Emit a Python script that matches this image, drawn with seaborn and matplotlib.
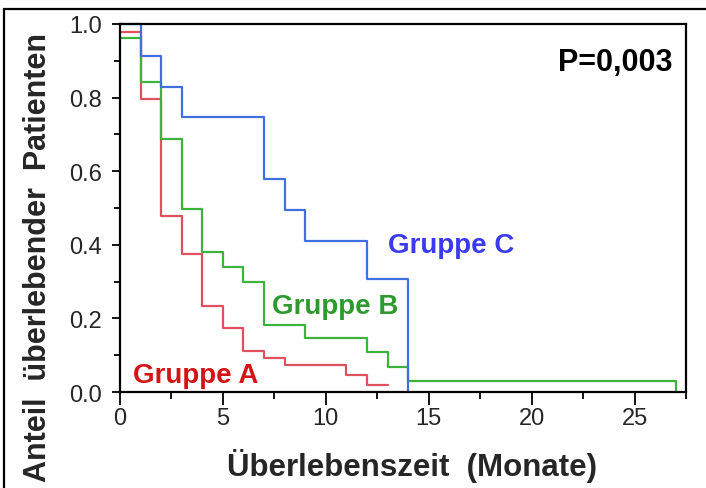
import numpy as np
import pandas as pd
import matplotlib
matplotlib.use("Agg")
import matplotlib.pyplot as plt
from matplotlib.patches import Rectangle
from matplotlib.ticker import MultipleLocator
import seaborn as sns

# ---- data ----
groups = ["Gruppe A", "Gruppe B", "Gruppe C"]
time_a = [0, 1, 2, 3, 4, 5, 6, 7, 8, 11, 12, 13]
surv_a = [0.977, 0.796, 0.477, 0.375, 0.234, 0.173, 0.112, 0.092, 0.074, 0.046, 0.02, 0.02]
time_b = [0, 1, 2, 3, 4, 5, 6, 7, 9, 12, 13, 14, 27]
surv_b = [0.961, 0.842, 0.688, 0.497, 0.38, 0.34, 0.30, 0.183, 0.147, 0.108, 0.069, 0.031, 0.0]
time_c = [0, 1, 2, 3, 7, 8, 9, 12, 14]
surv_c = [1.0, 0.914, 0.83, 0.746, 0.579, 0.495, 0.411, 0.307, 0.0]
x_ticks = [0, 5, 10, 15, 20, 25]
y_ticks = [0.0, 0.2, 0.4, 0.6, 0.8, 1.0]
p_text = "P=0,003"

line_colors = {"Gruppe A": "#e0505e", "Gruppe B": "#3cb43c", "Gruppe C": "#4070e0"}
text_colors = {"Gruppe A": "#d41414", "Gruppe B": "#2e9a2e", "Gruppe C": "#3a3af0"}

df = pd.concat([
    pd.DataFrame({"Zeit": time_a, "Anteil": surv_a, "Gruppe": "Gruppe A"}),
    pd.DataFrame({"Zeit": time_b, "Anteil": surv_b, "Gruppe": "Gruppe B"}),
    pd.DataFrame({"Zeit": time_c, "Anteil": surv_c, "Gruppe": "Gruppe C"}),
], ignore_index=True)

sns.set_theme(style="white")
plt.rcParams["font.family"] = ["Liberation Sans", "DejaVu Sans"]

W, H = 706, 489
fig = plt.figure(figsize=(W / 100, H / 100), dpi=100)
ax = fig.add_axes([120 / W, 1 - 393 / H, (686 - 120) / W, (393 - 25) / H])

sns.lineplot(data=df, x="Zeit", y="Anteil", hue="Gruppe", hue_order=groups,
             palette=line_colors, estimator=None, sort=False,
             drawstyle="steps-post", linewidth=1.6, legend=False, ax=ax,
             clip_on=False)

ax.set_xlim(0, 27.5)
ax.set_ylim(0, 1.0)
ax.set_xticks(x_ticks)
ax.set_yticks(y_ticks)
ax.xaxis.set_minor_locator(MultipleLocator(2.5))
ax.yaxis.set_minor_locator(MultipleLocator(0.1))
ax.set_yticklabels([f"{v:.1f}" for v in y_ticks])
ax.set_xlabel("")
ax.set_ylabel("")
for s in ax.spines.values():
    s.set_visible(True)
    s.set_color("black")
    s.set_linewidth(1.6)
ax.tick_params(axis="x", which="major", direction="out", length=9, width=1.3,
               color="black", labelsize=17, pad=2, bottom=True)
ax.tick_params(axis="x", which="minor", direction="out", length=5, width=1.3,
               color="black", bottom=True)
ax.tick_params(axis="y", which="major", direction="out", length=6, width=1.3,
               color="black", labelsize=17, pad=7, left=True)
ax.tick_params(axis="y", which="minor", direction="out", length=4, width=1.3,
               color="black", left=True)
ax.grid(False)

# group labels
ax.text(13.02, 0.40, "Gruppe C", color=text_colors["Gruppe C"], fontsize=20,
        fontweight="bold", ha="left", va="center")
ax.text(7.39, 0.234, "Gruppe B", color=text_colors["Gruppe B"], fontsize=20,
        fontweight="bold", ha="left", va="center")
ax.text(0.63, 0.046, "Gruppe A", color=text_colors["Gruppe A"], fontsize=20,
        fontweight="bold", ha="left", va="center")
ax.text(26.82, 0.897, p_text, color="black", fontsize=22, fontweight="bold",
        ha="right", va="center")

fig.text(412 / W, 1 - 466 / H, "Überlebenszeit  (Monate)", fontsize=22.5,
         fontweight="bold", ha="center", va="center")
fig.text(38 / W, 1 - 257 / H, "Anteil  überlebender  Patienten", fontsize=22,
         fontweight="bold", ha="center", va="center", rotation=90)

# outer frame
fig.patches.append(Rectangle((4 / W, -0.1), 1.2, (1 - 10 / H) + 0.1,
                             transform=fig.transFigure, fill=False,
                             edgecolor="black", linewidth=1.6))

fig.savefig("out.png", dpi=100)
